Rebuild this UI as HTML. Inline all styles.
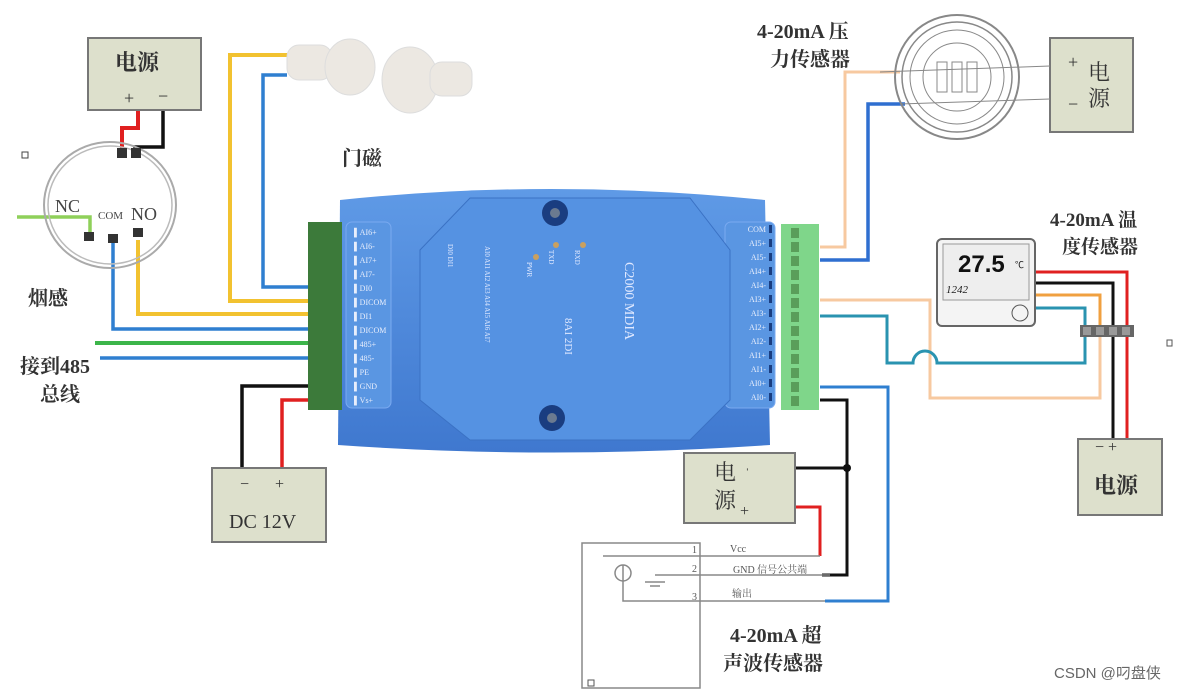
<!DOCTYPE html>
<html><head><meta charset="utf-8"><style>
html,body{margin:0;padding:0;background:#fff}
svg{display:block}
text{font-family:"Liberation Serif","Noto Serif CJK SC",serif}
.s{font-family:"Liberation Sans","Noto Sans CJK SC",sans-serif}
</style></head><body>
<svg width="1201" height="694" viewBox="0 0 1201 694" xmlns="http://www.w3.org/2000/svg">
<defs>
<linearGradient id="bd" x1="0" y1="0" x2="0" y2="1"><stop offset="0" stop-color="#5f9ae6"/><stop offset="1" stop-color="#3f78cf"/></linearGradient>
</defs>
<g fill="none" stroke-linejoin="miter">
<polyline points="287,55 230,55 230,301 312,301" stroke="#f2c230" stroke-width="4"/>
<polyline points="287,75 263,75 263,287 312,287" stroke="#2f7fd0" stroke-width="3.5"/>
<polyline points="138,240 138,314 312,314" stroke="#f2c230" stroke-width="4"/>
<polyline points="113,240 113,329 312,329" stroke="#2f7fd0" stroke-width="3.5"/>
<polyline points="95,343 312,343" stroke="#3cb54a" stroke-width="4"/>
<polyline points="100,358 312,358" stroke="#2f7fd0" stroke-width="3.5"/>
<polyline points="17,217 90,217 90,234" stroke="#8fd05a" stroke-width="3.5"/>
<polyline points="138,108 138,128 122,128 122,150" stroke="#e02020" stroke-width="4"/>
<polyline points="163,108 163,147 135,147 135,150" stroke="#111" stroke-width="3.5"/>
<polyline points="312,386 242,386 242,470" stroke="#111" stroke-width="3.5"/>
<polyline points="312,400 282,400 282,470" stroke="#e02020" stroke-width="3.5"/>
<polyline points="820,247 845,247 845,72 900,72" stroke="#f7c9a0" stroke-width="3"/>
<polyline points="820,260 868,260 868,104 905,104" stroke="#2f6fd0" stroke-width="3.5"/>
<polyline points="820,300 930,300 930,398 1100,398 1100,332" stroke="#f7c9a0" stroke-width="3"/>
<polyline points="1035,295 1100,295 1100,332" stroke="#f0a040" stroke-width="3"/>
<path d="M820,316 H887 V363 H913 A12,12 0 0 1 937,363 H1085 V308 H1035" stroke="#2a93b0" stroke-width="3"/>
<polyline points="1035,272 1127,272 1127,440" stroke="#e02020" stroke-width="3"/>
<polyline points="1035,283 1113,283 1113,440" stroke="#111" stroke-width="3"/>
<polyline points="820,387 888,387 888,601 825,601" stroke="#2f7fd0" stroke-width="3"/>
<polyline points="820,400 847,400 847,575 822,575" stroke="#111" stroke-width="3"/>
<polyline points="795,468 847,468" stroke="#111" stroke-width="3"/>
<polyline points="795,507 820,507 820,556" stroke="#e02020" stroke-width="3"/>
</g>
<circle cx="847" cy="468" r="4" fill="#111"/>
<rect x="1080" y="325" width="54" height="12" fill="#666"/>
<g fill="#999"><rect x="1083" y="327" width="8" height="8"/><rect x="1096" y="327" width="8" height="8"/><rect x="1109" y="327" width="8" height="8"/><rect x="1122" y="327" width="8" height="8"/></g>

<g fill="#dde0cc" stroke="#777" stroke-width="2">
<rect x="88" y="38" width="113" height="72"/>
<rect x="1050" y="38" width="83" height="94"/>
<rect x="1078" y="439" width="84" height="76"/>
<rect x="212" y="468" width="114" height="74"/>
<rect x="684" y="453" width="111" height="70"/>
</g>
<g fill="#333" font-size="22">
<text x="115" y="70" font-weight="bold">电源</text>
<text x="124" y="104" font-size="18">+</text><text x="158" y="102" font-size="18">−</text>
<text x="1068" y="68" font-size="18">+</text><text x="1088" y="80">电</text>
<text x="1068" y="110" font-size="18">−</text><text x="1088" y="106">源</text>
<text x="1095" y="452" font-size="16">− +</text><text x="1094" y="493" font-weight="bold">电源</text>
<text x="240" y="489" font-size="16">−</text><text x="275" y="489" font-size="16">+</text>
<text x="229" y="528" font-size="20">DC 12V</text>
<text x="714" y="480">电</text><text x="714" y="508">源</text>
<text x="745" y="478" font-size="14">ˈ</text><text x="740" y="516" font-size="16">+</text>
</g>

<ellipse cx="110" cy="205" rx="66" ry="63" fill="none" stroke="#aaa" stroke-width="2"/>
<ellipse cx="110" cy="205" rx="62" ry="59" fill="none" stroke="#bbb" stroke-width="1.5"/>
<g fill="#333"><rect x="117" y="148" width="10" height="10"/><rect x="131" y="148" width="10" height="10"/>
<rect x="84" y="232" width="10" height="9"/><rect x="108" y="234" width="10" height="9"/><rect x="133" y="228" width="10" height="9"/></g>
<text x="55" y="212" font-size="18" fill="#444">NC</text>
<text x="98" y="219" font-size="11" fill="#444">COM</text>
<text x="131" y="220" font-size="18" fill="#444">NO</text>
<rect x="22" y="152" width="6" height="6" fill="none" stroke="#444"/>
<text x="28" y="305" font-size="20" fill="#333" font-weight="bold">烟感</text>
<text x="20" y="373" font-size="20" fill="#333" font-weight="bold">接到485</text>
<text x="40" y="401" font-size="20" fill="#333" font-weight="bold">总线</text>

<g fill="#ece8e2" stroke="#ddd">
<rect x="287" y="45" width="45" height="35" rx="12"/>
<ellipse cx="350" cy="67" rx="25" ry="28"/>
<ellipse cx="410" cy="80" rx="28" ry="33"/>
<rect x="430" y="62" width="42" height="34" rx="12"/>
</g>
<text x="342" y="165" font-size="20" fill="#333" font-weight="bold">门磁</text>

<path d="M340,200 Q550,178 765,200 L770,445 Q550,460 338,445 Z" fill="url(#bd)"/>
<rect x="346" y="222" width="45" height="186" rx="6" fill="#5a96e2" stroke="#7aaaf0"/>
<rect x="725" y="222" width="50" height="186" rx="6" fill="#5a96e2" stroke="#7aaaf0"/>
<rect x="308" y="222" width="34" height="188" fill="#3c7a3a"/>
<rect x="781" y="224" width="38" height="186" fill="#7fd68a"/>
<g stroke="#5a9e5a"><line x1="795" y1="228" x2="795" y2="408" stroke-width="8" stroke-dasharray="10,4"/></g>
<path d="M420,250 L470,198 L690,198 L730,250 L730,400 L690,440 L470,440 L420,400 Z" fill="#5592e2" stroke="#3b72c4"/>
<circle cx="555" cy="213" r="13" fill="#1a3d80"/><circle cx="555" cy="213" r="5" fill="#6b7a90"/>
<circle cx="552" cy="418" r="13" fill="#1a3d80"/><circle cx="552" cy="418" r="5" fill="#6b7a90"/>
<g class="s" font-size="8" fill="#e8eefc">
<text x="354" y="235">▌AI6+</text><text x="354" y="249">▌AI6-</text><text x="354" y="263">▌AI7+</text><text x="354" y="277">▌AI7-</text><text x="354" y="291">▌DI0</text><text x="354" y="305">▌DICOM</text><text x="354" y="319">▌DI1</text><text x="354" y="333">▌DICOM</text><text x="354" y="347">▌485+</text><text x="354" y="361">▌485-</text><text x="354" y="375">▌PE</text><text x="354" y="389">▌GND</text><text x="354" y="403">▌Vs+</text>
<g text-anchor="end"><text x="766" y="232">COM</text><text x="766" y="246">AI5+</text><text x="766" y="260">AI5-</text><text x="766" y="274">AI4+</text><text x="766" y="288">AI4-</text><text x="766" y="302">AI3+</text><text x="766" y="316">AI3-</text><text x="766" y="330">AI2+</text><text x="766" y="344">AI2-</text><text x="766" y="358">AI1+</text><text x="766" y="372">AI1-</text><text x="766" y="386">AI0+</text><text x="766" y="400">AI0-</text></g>
</g>
<g fill="#1a3d80"><rect x="769" y="225" width="3" height="8"/><rect x="769" y="239" width="3" height="8"/><rect x="769" y="253" width="3" height="8"/><rect x="769" y="267" width="3" height="8"/><rect x="769" y="281" width="3" height="8"/><rect x="769" y="295" width="3" height="8"/><rect x="769" y="309" width="3" height="8"/><rect x="769" y="323" width="3" height="8"/><rect x="769" y="337" width="3" height="8"/><rect x="769" y="351" width="3" height="8"/><rect x="769" y="365" width="3" height="8"/><rect x="769" y="379" width="3" height="8"/><rect x="769" y="393" width="3" height="8"/></g>
<g class="s" fill="#dfe8ff">
<text transform="translate(625,262) rotate(90)" font-size="14">C2000 MDIA</text>
<text transform="translate(565,318) rotate(90)" font-size="11">8AI 2DI</text>
<text transform="translate(575,250) rotate(90)" font-size="7">RXD</text>
<text transform="translate(549,250) rotate(90)" font-size="7">TXD</text>
<text transform="translate(527,262) rotate(90)" font-size="7">PWR</text>
<text transform="translate(485,246) rotate(90)" font-size="7">AI0 AI1 AI2 AI3 AI4 AI5 AI6 AI7</text>
<text transform="translate(448,244) rotate(90)" font-size="7">DI0 DI1</text>
</g>
<g fill="#c9a060"><circle cx="583" cy="245" r="3"/><circle cx="556" cy="245" r="3"/><circle cx="536" cy="257" r="3"/></g>

<g fill="none" stroke="#888">
<circle cx="957" cy="77" r="62" stroke-width="2"/><circle cx="957" cy="77" r="55" stroke-width="1.5"/><circle cx="957" cy="77" r="47"/><circle cx="957" cy="77" r="34"/>
<rect x="937" y="62" width="10" height="30"/><rect x="952" y="62" width="10" height="30"/><rect x="967" y="62" width="10" height="30"/>
<line x1="880" y1="72" x2="1050" y2="66"/><line x1="900" y1="104" x2="1050" y2="99"/>
</g>
<text x="757" y="38" font-size="20" fill="#333" font-weight="bold">4-20mA 压</text>
<text x="770" y="66" font-size="20" fill="#333" font-weight="bold">力传感器</text>

<rect x="937" y="239" width="98" height="87" rx="5" fill="#f4f4f4" stroke="#666" stroke-width="2"/>
<rect x="943" y="244" width="86" height="56" fill="#eee" stroke="#999"/>
<text x="958" y="272" class="s" font-size="24" font-weight="bold" fill="#111">27.5</text>
<text x="1015" y="268" class="s" font-size="9" fill="#111">℃</text>
<text x="946" y="293" font-size="11" fill="#222" font-style="italic">1242</text>
<circle cx="1020" cy="313" r="8" fill="none" stroke="#555"/>
<text x="1050" y="226" font-size="19" fill="#333" font-weight="bold">4-20mA 温</text>
<text x="1062" y="253" font-size="19" fill="#333" font-weight="bold">度传感器</text>
<rect x="1167" y="340" width="5" height="6" fill="none" stroke="#555"/>

<g fill="none" stroke="#888" stroke-width="1.5">
<rect x="582" y="543" width="118" height="145"/>
<polyline points="603,556 820,556"/>
<polyline points="655,575 830,575"/>
<polyline points="623,565 623,601 825,601"/>
<circle cx="623" cy="573" r="8"/>
<line x1="645" y1="582" x2="665" y2="582"/><line x1="650" y1="586" x2="660" y2="586"/>
</g>
<g class="s" font-size="10" fill="#555">
<text x="692" y="553">1</text><text x="692" y="572">2</text><text x="692" y="600">3</text>
<text x="730" y="552">Vcc</text><text x="733" y="573">GND 信号公共端</text><text x="732" y="597">输出</text>
</g>
<text x="730" y="642" font-size="20" fill="#333" font-weight="bold">4-20mA 超</text>
<text x="723" y="670" font-size="20" fill="#333" font-weight="bold">声波传感器</text>
<rect x="588" y="680" width="6" height="6" fill="none" stroke="#555"/>
<text x="1054" y="678" class="s" font-size="15" fill="#666">CSDN @叼盘侠</text>
</svg>
</body></html>
